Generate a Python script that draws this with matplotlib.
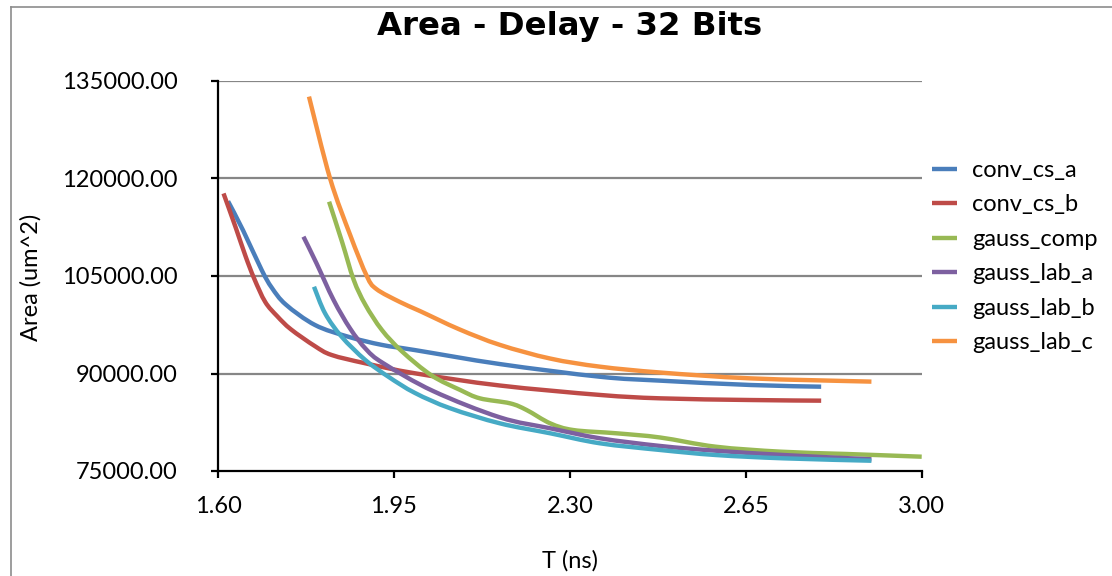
import numpy as np
import matplotlib
matplotlib.use("Agg")
import matplotlib.pyplot as plt
from matplotlib.path import Path
from matplotlib.patches import PathPatch
from matplotlib.lines import Line2D

# ---- data: clock period T (ns) vs. synthesized area (um^2) ----
conv_cs_a_t = [1.62, 1.65, 1.687, 1.707, 1.735, 1.793, 1.859, 1.926, 1.992, 2.161, 2.36, 2.48, 2.66, 2.80]
conv_cs_a_area = [116500, 112000, 105900, 103200, 100600, 97460, 95660, 94400, 93600, 91450, 89500, 88900,
                  88230, 87970]

conv_cs_b_t = [1.611, 1.635, 1.655, 1.672, 1.694, 1.718, 1.745, 1.793, 1.826, 1.893, 1.992, 2.161, 2.36,
               2.48, 2.66, 2.80]
conv_cs_b_area = [117700, 112500, 108000, 104600, 101000, 98800, 96800, 94200, 92850, 91570, 90030, 88150,
                  86700, 86180, 85920, 85820]

gauss_comp_t = [1.821, 1.847, 1.870, 1.893, 1.926, 1.966, 2.025, 2.082, 2.121, 2.181, 2.214, 2.261, 2.307,
                2.393, 2.48, 2.59, 2.72, 2.85, 3.00]
gauss_comp_area = [116430, 110200, 104400, 100600, 96700, 93400, 89700, 87460, 86180, 85410, 84380, 82330,
                   81300, 80800, 80150, 78740, 77970, 77620, 77200]

gauss_lab_a_t = [1.770, 1.796, 1.830, 1.863, 1.895, 1.929, 2.028, 2.161, 2.261, 2.36, 2.48, 2.59, 2.725,
                 2.858, 2.90]
gauss_lab_a_area = [111050, 106950, 101300, 96900, 93700, 91570, 87300, 83250, 81570, 80030, 78850, 78120,
                    77460, 76950, 76800]

gauss_lab_b_t = [1.791, 1.813, 1.846, 1.893, 1.939, 1.992, 2.062, 2.161, 2.261, 2.36, 2.48, 2.59, 2.725, 2.90]
gauss_lab_b_area = [103350, 99260, 95660, 92080, 89500, 87000, 84650, 82330, 80800, 79260, 78230, 77460,
                    76950, 76580]

gauss_lab_c_t = [1.781, 1.823, 1.863, 1.896, 1.915, 1.962, 2.002, 2.08, 2.161, 2.261, 2.36, 2.48, 2.66, 2.90]
gauss_lab_c_area = [132600, 120000, 111300, 105000, 103000, 101000, 99600, 96800, 94400, 92300, 91050,
                    90150, 89250, 88750]

series_names = ["conv_cs_a", "conv_cs_b", "gauss_comp", "gauss_lab_a", "gauss_lab_b", "gauss_lab_c"]
series_t = [conv_cs_a_t, conv_cs_b_t, gauss_comp_t, gauss_lab_a_t, gauss_lab_b_t, gauss_lab_c_t]
series_area = [conv_cs_a_area, conv_cs_b_area, gauss_comp_area, gauss_lab_a_area, gauss_lab_b_area,
               gauss_lab_c_area]
series_colors = ["#4A7EBB", "#BE4B48", "#98B954", "#7D60A0", "#46AAC5", "#F69240"]

x_ticks = [1.60, 1.95, 2.30, 2.65, 3.00]
y_ticks = [75000, 90000, 105000, 120000, 135000]

W, H = 1112, 576
plt.rcParams["font.family"] = ["Lato", "DejaVu Sans"]
FS = 17


def smooth_path(xs, ys):
    """Catmull-Rom style smoothed line through the points as cubic Bezier segments."""
    pts = np.column_stack([xs, ys]).astype(float)
    n = len(pts)
    verts = [pts[0]]
    codes = [Path.MOVETO]
    for i in range(n - 1):
        p0 = pts[i - 1] if i > 0 else pts[i]
        p1 = pts[i]
        p2 = pts[i + 1]
        p3 = pts[i + 2] if i + 2 < n else pts[i + 1]
        c1 = p1 + (p2 - p0) / 6.0
        c2 = p2 - (p3 - p1) / 6.0
        verts += [c1, c2, p2]
        codes += [Path.CURVE4] * 3
    return Path(verts, codes)


fig = plt.figure(figsize=(W / 100, H / 100), dpi=100)
ax = fig.add_axes([218 / W, 1 - 471 / H, (921.7 - 218) / W, (471 - 81) / H])

ax.set_xlim(1.60, 3.00)
ax.set_ylim(75000, 135000)

lw = 4.4 * 0.72
handles = []
for name, t, a, c in zip(series_names, series_t, series_area, series_colors):
    patch = PathPatch(smooth_path(t, a), facecolor="none", edgecolor=c, lw=lw,
                      capstyle="butt", joinstyle="round", zorder=3)
    ax.add_patch(patch)
    handles.append(Line2D([], [], color=c, lw=lw, solid_capstyle="butt", label=name))

# gridlines
for yv in y_ticks[1:]:
    ax.axhline(yv, color="#868686", lw=1.6, zorder=1)

for side in ["top", "right"]:
    ax.spines[side].set_visible(False)
for side in ["left", "bottom"]:
    ax.spines[side].set_linewidth(1.6)
    ax.spines[side].set_color("black")
    ax.spines[side].set_zorder(4)

ax.set_xticks(x_ticks)
ax.set_xticklabels([f"{v:.2f}" for v in x_ticks])
ax.set_yticks(y_ticks)
ax.set_yticklabels([f"{v:.2f}" for v in y_ticks])
ax.tick_params(axis="both", direction="out", length=5, width=1.6, color="black", labelsize=FS)
ax.tick_params(axis="y", pad=24)
ax.tick_params(axis="x", pad=13)

fig.text(570 / W, 1 - 35 / H, "Area - Delay - 32 Bits", ha="center", va="baseline",
         fontsize=23.3, fontweight="bold", family="DejaVu Sans")
fig.text(31 / W, 1 - 277 / H, "Area (um^2)", ha="center", va="center", rotation=90, fontsize=FS)
fig.text(570 / W, 1 - 561 / H, "T (ns)", ha="center", va="center", fontsize=FS)

ax.legend(handles=handles, loc="upper left", bbox_to_anchor=(932 / W, 1 - 160 / H),
          bbox_transform=fig.transFigure, frameon=False, fontsize=FS,
          handlelength=1.06, handletextpad=0.64, labelspacing=0.57, borderaxespad=0, borderpad=0)

# outer chart border (top and left edges)
fig.add_artist(Line2D([10.5 / W, 1], [1 - 6.5 / H, 1 - 6.5 / H], transform=fig.transFigure,
                      color="#8c8c8c", lw=1.2))
fig.add_artist(Line2D([10.5 / W, 10.5 / W], [0, 1 - 6.5 / H], transform=fig.transFigure,
                      color="#8c8c8c", lw=1.2))

fig.savefig("out.png", dpi=100)
